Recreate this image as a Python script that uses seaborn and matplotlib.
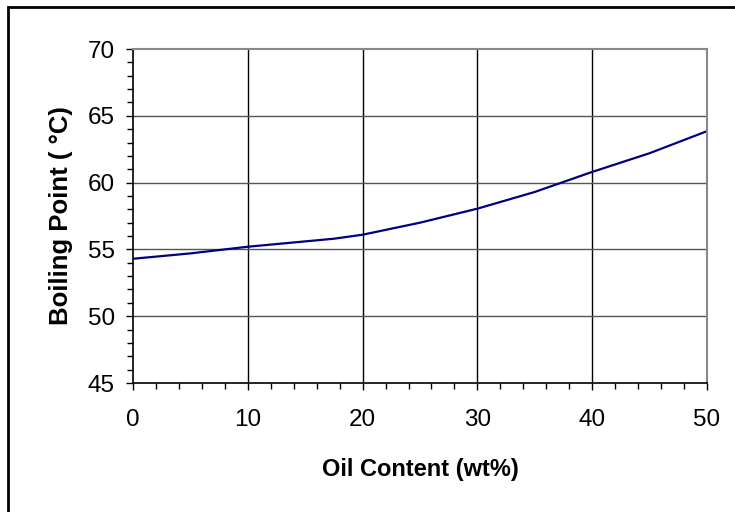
import matplotlib
matplotlib.use('Agg')
from matplotlib import pyplot as plt
from matplotlib.ticker import MultipleLocator
import seaborn as sns
import pandas as pd

oil_content = [0, 5, 10, 15, 17.5, 20, 25, 30, 35, 40, 45, 50]
boiling_point = [54.3, 54.7, 55.2, 55.6, 55.8, 56.1, 57.0, 58.05, 59.3, 60.8, 62.2, 63.85]

df = pd.DataFrame({'Oil_Content': oil_content, 'Boiling_Point': boiling_point})

sns.set_style('white')
plt.rcParams['font.family'] = ['Liberation Sans', 'DejaVu Sans']
plt.rcParams['text.color'] = 'black'
plt.rcParams['axes.labelcolor'] = 'black'
plt.rcParams['xtick.color'] = 'black'
plt.rcParams['ytick.color'] = 'black'

fig = plt.figure(figsize=(7.35, 5.12), dpi=100)
ax = fig.add_axes([133 / 735, 1 - 383 / 512, (707 - 133) / 735, (383 - 49) / 512])

sns.lineplot(data=df, x='Oil_Content', y='Boiling_Point', ax=ax,
             color='#000080', linewidth=1.6)

ax.set_xlim(0, 50)
ax.set_ylim(45, 70)
ax.xaxis.set_major_locator(MultipleLocator(10))
ax.xaxis.set_minor_locator(MultipleLocator(2))
ax.yaxis.set_major_locator(MultipleLocator(5))
ax.yaxis.set_minor_locator(MultipleLocator(1))

# grid: vertical black, horizontal dark gray
ax.grid(False)
for xv in range(10, 50, 10):
    ax.axvline(xv, color='black', linewidth=1, zorder=0)
for yv in range(50, 70, 5):
    ax.axhline(yv, color='#555555', linewidth=1, zorder=0)

ax.tick_params(axis='both', which='major', direction='out', length=5,
               width=1, color='black', labelcolor='black', labelsize=17.5,
               left=True, bottom=True)
ax.tick_params(axis='both', which='minor', direction='out', length=4,
               width=1, color='black', left=True, bottom=True)
ax.tick_params(axis='x', which='major', pad=14)
ax.tick_params(axis='y', which='major', pad=8)

for side in ['left', 'bottom']:
    ax.spines[side].set_color('black')
    ax.spines[side].set_linewidth(1.2)
for side in ['top', 'right']:
    ax.spines[side].set_color('#888888')
    ax.spines[side].set_linewidth(1.5)

ax.set_xlabel('Oil Content (wt%)', fontsize=17, fontweight='bold', labelpad=19,
              color='black')
ax.set_ylabel('Boiling Point ( °C)', fontsize=18.5, fontweight='bold', labelpad=11,
              color='black')

# outer frame of the chart area
frame = plt.Rectangle((8 / 735, -0.1), 1.2, 1 - 7 / 512 + 0.1, transform=fig.transFigure,
                      fill=False, edgecolor='black', linewidth=2, clip_on=False)
fig.add_artist(frame)

fig.savefig('out.png', dpi=100)
